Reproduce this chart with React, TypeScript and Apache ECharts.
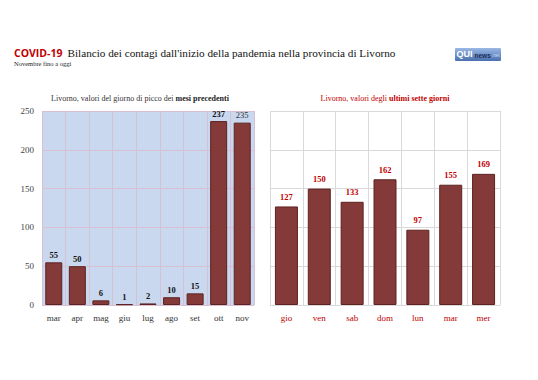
import React, { useEffect, useRef } from "react";
import * as echarts from "echarts";

const monthCats = ["mar", "apr", "mag", "giu", "lug", "ago", "set", "ott", "nov"];
const monthVals = [55, 50, 6, 1, 2, 10, 15, 237, 235];
const dayCats = ["gio", "ven", "sab", "dom", "lun", "mar", "mer"];
const dayVals = [127, 150, 133, 162, 97, 155, 169];
const yTicks = [0, 50, 100, 150, 200, 250];

const SERIF = "'Liberation Serif', 'Times New Roman', serif";
const SANS = "'Open Sans', 'Liberation Sans', sans-serif";
const RED = "#c00000";
const BAR = "#833a38";
const BAR_BORDER = "#5e2220";

export default function App() {
  const ref = useRef<HTMLDivElement>(null);
  useEffect(() => {
    if (!ref.current) return;
    const chart = echarts.init(ref.current, null, { renderer: "svg" });
    const yMax = yTicks[yTicks.length - 1];
    chart.setOption({
      animation: false,
      backgroundColor: "#ffffff",
      title: [
        {
          text: "{a|COVID-19} {b|Bilancio dei contagi dall'inizio della pandemia nella provincia di Livorno}",
          left: 14,
          top: 44,
          padding: 0,
          textStyle: {
            fontWeight: "normal",
            rich: {
              a: { fontFamily: SANS, fontWeight: "bold", fontSize: 10.5, color: RED },
              b: { fontFamily: SERIF, fontWeight: "normal", fontSize: 11.2, color: "#111" },
            },
          },
        },
        {
          text: "Novembre fino a oggi",
          left: 14,
          top: 60,
          padding: 0,
          textStyle: { fontFamily: SERIF, fontSize: 6.5, color: "#222", fontWeight: "normal" },
        },
        {
          text: "{n|Livorno, valori del giorno di picco dei }{b|mesi precedenti}",
          left: 140,
          textAlign: "center",
          top: 94,
          padding: 0,
          textStyle: {
            fontWeight: "normal",
            rich: {
              n: { fontFamily: SERIF, fontSize: 8, color: "#333", fontWeight: "normal" },
              b: { fontFamily: SERIF, fontSize: 8, color: "#222", fontWeight: "bold" },
            },
          },
        },
        {
          text: "{n|Livorno, valori degli }{b|ultimi sette giorni}",
          left: 385,
          textAlign: "center",
          top: 94,
          padding: 0,
          textStyle: {
            fontWeight: "normal",
            rich: {
              n: { fontFamily: SERIF, fontSize: 8, color: RED, fontWeight: "normal" },
              b: { fontFamily: SERIF, fontSize: 8, color: RED, fontWeight: "bold" },
            },
          },
        },
      ],
      graphic: [
        {
          type: "rect",
          x: 455,
          y: 48,
          shape: { x: 0, y: 0, width: 46, height: 13, r: 1 },
          style: {
            fill: new echarts.graphic.LinearGradient(0, 0, 0, 1, [
              { offset: 0, color: "#9ab8e4" },
              { offset: 1, color: "#4a70b0" },
            ]),
          },
        },
        {
          type: "text",
          x: 456.5,
          y: 49.5,
          style: {
            text: "QUI",
            fill: "#ffffff",
            fontSize: 9,
            fontWeight: "bold",
            fontFamily: "'Liberation Sans', sans-serif",
            verticalAlign: "top",
          },
        },
        {
          type: "text",
          x: 474.5,
          y: 51.5,
          style: {
            text: "news",
            fill: "#1d2f5a",
            fontSize: 6.5,
            fontWeight: "bold",
            fontFamily: "'Liberation Sans', sans-serif",
            verticalAlign: "top",
          },
        },
        {
          type: "text",
          x: 492,
          y: 53,
          style: {
            text: ".net",
            fill: "#d0dcf0",
            fontSize: 4.5,
            fontFamily: "'Liberation Sans', sans-serif",
            verticalAlign: "top",
          },
        },
      ],
      grid: [
        {
          left: 42,
          top: 111,
          width: 212,
          height: 194,
          show: true,
          backgroundColor: "#c9d8ef",
          borderWidth: 0,
        },
        {
          left: 270,
          top: 111,
          width: 230,
          height: 194,
          show: false,
        },
      ],
      xAxis: [
        {
          type: "category",
          gridIndex: 0,
          data: monthCats,
          boundaryGap: true,
          axisLine: { show: false },
          axisTick: { show: false },
          splitLine: { show: true, lineStyle: { color: "#d3c2d6", width: 1 } },
          axisLabel: { fontFamily: SERIF, fontSize: 9, color: "#333", margin: 8 },
        },
        {
          type: "category",
          gridIndex: 1,
          data: dayCats,
          boundaryGap: true,
          axisLine: { show: false },
          axisTick: { show: false },
          splitLine: { show: true, lineStyle: { color: "#d9d9d9", width: 1 } },
          axisLabel: { fontFamily: SERIF, fontSize: 9, color: RED, margin: 8 },
        },
      ],
      yAxis: [
        {
          type: "value",
          gridIndex: 0,
          min: 0,
          max: yMax,
          interval: 50,
          axisLine: { show: false },
          axisTick: { show: false },
          splitLine: { show: true, lineStyle: { color: "#d8bfd2", width: 1 } },
          axisLabel: { fontFamily: SERIF, fontSize: 9, color: "#444", margin: 8 },
        },
        {
          type: "value",
          gridIndex: 1,
          min: 0,
          max: yMax,
          interval: 50,
          axisLine: { show: false },
          axisTick: { show: false },
          splitLine: { show: true, lineStyle: { color: "#d9d9d9", width: 1 } },
          axisLabel: { show: false },
        },
      ],
      series: [
        {
          type: "bar",
          xAxisIndex: 0,
          yAxisIndex: 0,
          barWidth: 17,
          data: monthVals.map((v, i) =>
            i === monthVals.length - 1
              ? { value: v, label: { fontWeight: "normal", color: "#333" } }
              : v
          ),
          itemStyle: { color: BAR, borderColor: BAR_BORDER, borderWidth: 1 },
          label: {
            show: true,
            position: "top",
            distance: 3,
            fontFamily: SERIF,
            fontSize: 8.5,
            fontWeight: "bold",
            color: "#111",
          },
        },
        {
          type: "bar",
          xAxisIndex: 1,
          yAxisIndex: 1,
          barWidth: 23,
          data: dayVals,
          itemStyle: { color: BAR, borderColor: BAR_BORDER, borderWidth: 1 },
          label: {
            show: true,
            position: "top",
            distance: 5,
            fontFamily: SERIF,
            fontSize: 8.5,
            fontWeight: "bold",
            color: RED,
          },
        },
      ],
    });
    return () => chart.dispose();
  }, []);
  return (
    <div
      ref={ref}
      style={{ position: "absolute", left: 0, top: 0, width: 538, height: 380 }}
    />
  );
}
